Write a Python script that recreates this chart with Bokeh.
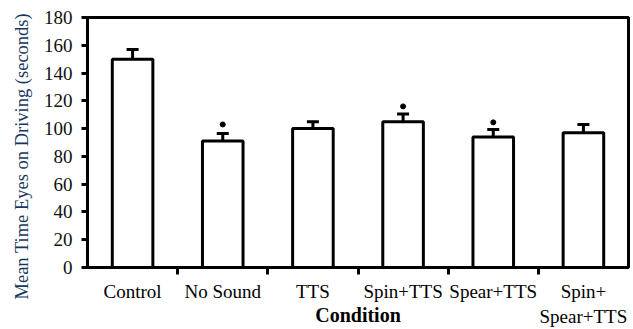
import numpy as np
from bokeh.plotting import figure
from bokeh.models import (ColumnDataSource, Range1d, FixedTicker, Whisker, TeeHead, Title)
from bokeh.embed import file_html
from bokeh.resources import INLINE

categories = ["Control", "No Sound", "TTS", "Spin+TTS", "Spear+TTS", "Spin+\nSpear+TTS"]
means = [150, 91, 100, 105, 94, 97]
errors = [7, 5.5, 5, 5.6, 5.3, 6]
sig_marks = [np.nan, 103, np.nan, 116, 104.5, np.nan]
y_ticks = [0, 20, 40, 60, 80, 100, 120, 140, 160, 180]

x = [i + 0.5 for i in range(len(categories))]
src = ColumnDataSource(dict(
    x=x, top=means,
    upper=[m + e for m, e in zip(means, errors)],
    lower=[m - e for m, e in zip(means, errors)],
    sig=sig_marks,
))

FONT = "'Liberation Serif', 'Times New Roman', serif"

p = figure(width=633, height=329, output_backend="svg", toolbar_location=None,
           x_range=Range1d(0, len(categories)), y_range=Range1d(0, y_ticks[-1]),
           min_border_left=87, min_border_right=5, min_border_top=17, min_border_bottom=62)
p.background_fill_color = "white"
p.border_fill_color = "white"
p.outline_line_color = "black"
p.outline_line_width = 3
p.xgrid.visible = False
p.ygrid.visible = False

p.vbar(x="x", top="top", width=0.45, bottom=0, source=src,
       fill_color="white", line_color="black", line_width=3)

w = Whisker(source=src, base="x", upper="upper", lower="lower",
            line_color="black", line_width=3,
            upper_head=TeeHead(size=12, line_width=3, line_color="black"),
            lower_head=TeeHead(size=12, line_width=3, line_color="black"))
p.add_layout(w)

p.scatter(x="x", y="sig", source=src, size=5, color="black")

# x axis: labels at category centres, tick marks at category boundaries
xa = p.xaxis[0]
xa.ticker = FixedTicker(ticks=x, minor_ticks=list(range(1, len(categories))))
xa.major_label_overrides = {v: c for v, c in zip(x, categories)}
xa.major_tick_line_color = None
xa.major_tick_out = 0
xa.major_tick_in = 0
xa.minor_tick_out = 7
xa.minor_tick_in = 0
xa.minor_tick_line_width = 3
xa.minor_tick_line_color = "black"
xa.axis_line_width = 3
xa.major_label_text_font = FONT
xa.major_label_text_font_size = "19px"
xa.major_label_text_color = "black"
xa.major_label_standoff = 6
xa.axis_label = "Condition"
xa.axis_label_text_font = FONT
xa.axis_label_text_font_style = "bold"
xa.axis_label_text_font_size = "20px"
xa.axis_label_text_color = "black"
xa.axis_label_standoff = -26

# y axis
ya = p.yaxis[0]
ya.ticker = FixedTicker(ticks=y_ticks)
ya.minor_tick_line_color = None
ya.major_tick_out = 6
ya.major_tick_in = 0
ya.major_tick_line_width = 3
ya.axis_line_width = 3
ya.major_label_text_font = FONT
ya.major_label_text_font_size = "19px"
ya.major_label_text_color = "#111111"
ya.major_label_standoff = 9

ylab = Title(text="Mean Time Eyes on Driving (seconds)", align="left", offset=-32,
             text_font=FONT, text_font_size="18.5px", text_font_style="normal",
             text_color="#17375E", standoff=18)
p.add_layout(ylab, "left")

open("out.html", "w").write(file_html(p, INLINE))
